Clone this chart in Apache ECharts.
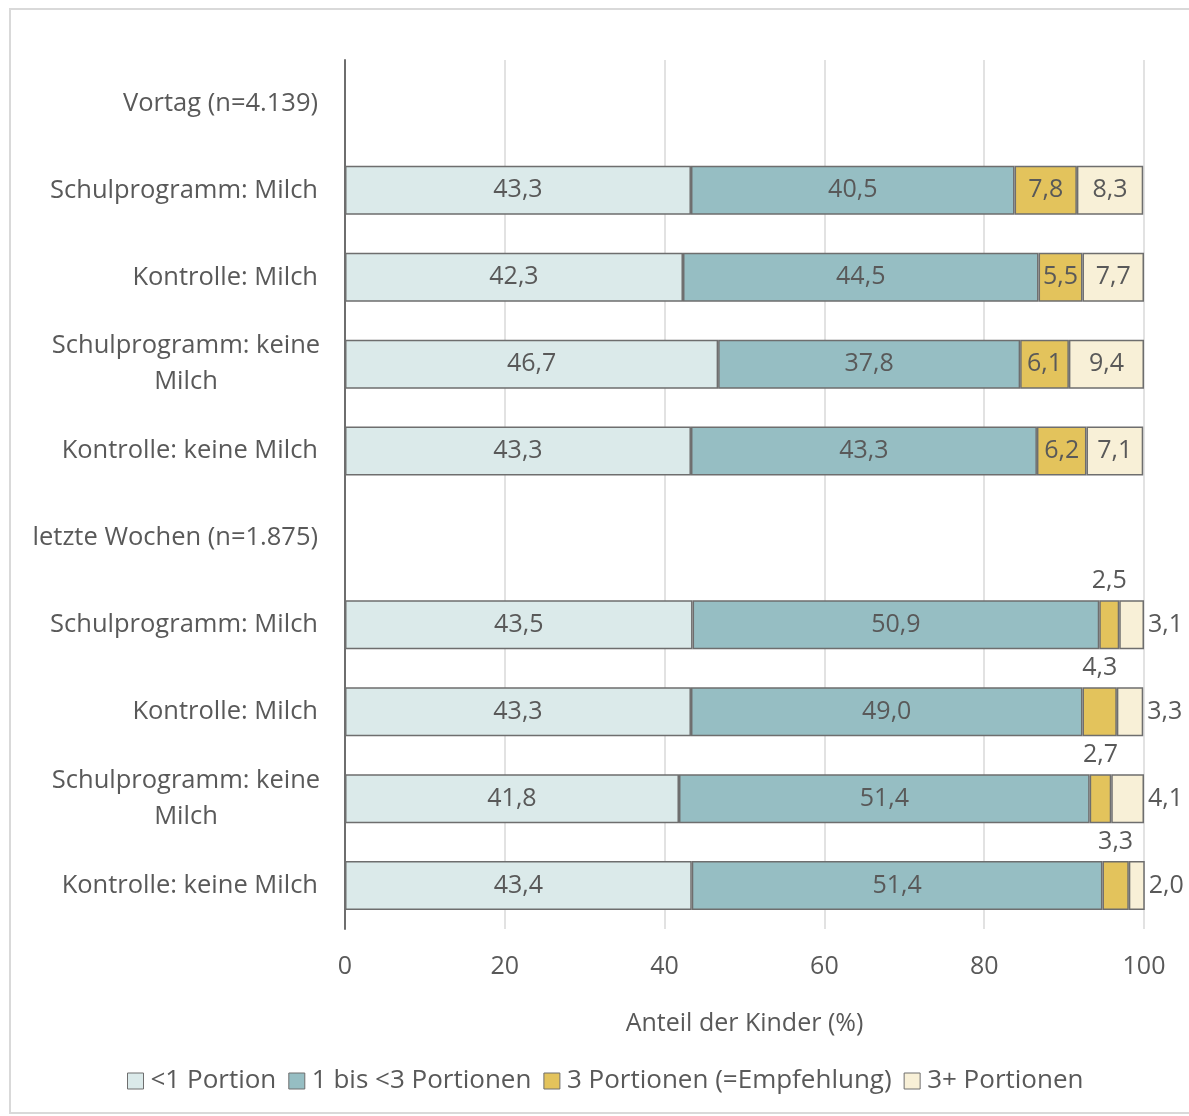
<!DOCTYPE html>
<html>
<head>
<meta charset="utf-8">
<script src="https://cdn.jsdelivr.net/npm/echarts@6/dist/echarts.min.js"></script>
<style>
  html, body { margin: 0; padding: 0; background: #fff; }
  #chart { width: 1189px; height: 1116px; }
</style>
</head>
<body>
<div id="chart"></div>
<script>
// Kategorien (von oben nach unten), leere Zeilen = Gruppenüberschriften
var categories = [
  'Vortag (n=4.139)',
  'Schulprogramm: Milch',
  'Kontrolle: Milch',
  'Schulprogramm: keine\nMilch',
  'Kontrolle: keine Milch',
  'letzte Wochen (n=1.875)',
  'Schulprogramm: Milch',
  'Kontrolle: Milch',
  'Schulprogramm: keine\nMilch',
  'Kontrolle: keine Milch'
];
var seriesNames = ['<1 Portion', '1 bis <3 Portionen', '3 Portionen (=Empfehlung)', '3+ Portionen'];
var lessThan1 = [null, 43.3, 42.3, 46.7, 43.3, null, 43.5, 43.3, 41.8, 43.4];
var oneTo3 = [null, 40.5, 44.5, 37.8, 43.3, null, 50.9, 49.0, 51.4, 51.4];
var three = [null, 7.8, 5.5, 6.1, 6.2, null, 2.5, 4.3, 2.7, 3.3];
var threePlus = [null, 8.3, 7.7, 9.4, 7.1, null, 3.1, 3.3, 4.1, 2.0];
var colors = ['#dbeaea', '#96bec3', '#e3c35c', '#f8f0d7'];
// Zeilen der zweiten Gruppe: kleine Segmente mit Beschriftung außerhalb
var secondGroup = [6, 7, 8, 9];

var textColor = '#595959';
var fmt = function (v) { return v.toFixed(1).replace('.', ','); };

function buildData(values, outsidePos) {
  return values.map(function (v, i) {
    if (v == null) return '-';
    var item = { value: v };
    if (outsidePos && secondGroup.indexOf(i) >= 0) {
      item.label = { position: outsidePos, distance: outsidePos === 'top' ? 7 : 4 };
    }
    return item;
  });
}

var allValues = [lessThan1, oneTo3, three, threePlus];
var outside = [null, null, 'top', 'right'];

var series = allValues.map(function (vals, k) {
  return {
    name: seriesNames[k],
    type: 'bar',
    stack: 'total',
    barWidth: 49,
    itemStyle: { color: colors[k], borderColor: '#6e6e6e', borderWidth: 1.5 },
    label: {
      show: true,
      position: 'inside',
      color: textColor,
      fontSize: 25,
      fontFamily: 'Open Sans',
      formatter: function (p) { return fmt(p.value); }
    },
    data: buildData(vals, outside[k])
  };
});

var chart = echarts.init(document.getElementById('chart'));
chart.setOption({
  animation: false,
  backgroundColor: '#fff',
  textStyle: { fontFamily: 'Open Sans', color: textColor },
  graphic: [{
    type: 'rect',
    shape: { x: 10, y: 9, width: 1200, height: 1104 },
    style: { fill: 'none', stroke: '#d9d9d9', lineWidth: 2 },
    silent: true
  }],
  grid: { left: 345, right: 45, top: 60, bottom: 187, containLabel: false },
  legend: {
    left: 122,
    top: 1063,
    itemWidth: 16,
    itemHeight: 16,
    itemGap: 12,
    icon: 'rect',
    itemStyle: { borderColor: '#6e6e6e', borderWidth: 1 },
    textStyle: { fontSize: 26, color: textColor, fontFamily: 'Open Sans', padding: [0, 0, 0, 2] },
    data: seriesNames
  },
  xAxis: {
    type: 'value',
    min: 0,
    max: 100,
    interval: 20,
    name: 'Anteil der Kinder (%)',
    nameLocation: 'middle',
    nameGap: 82,
    nameTextStyle: { fontSize: 25, color: textColor },
    axisLine: { show: false },
    axisTick: { show: false },
    axisLabel: { fontSize: 25, color: textColor, margin: 25 },
    splitLine: { lineStyle: { color: '#d9d9d9', width: 1.5 } }
  },
  yAxis: {
    type: 'category',
    inverse: true,
    data: categories,
    axisLine: { show: true, lineStyle: { color: '#6e6e6e', width: 2 } },
    axisTick: { show: false },
    axisLabel: {
      fontSize: 25.5,
      color: textColor,
      margin: 27,
      lineHeight: 36,
      formatter: function (v) {
        if (v.indexOf('\n') >= 0) {
          return v.split('\n').map(function (s) { return '{c|' + s + '}'; }).join('\n');
        }
        return v;
      },
      rich: {
        c: { width: 264, align: 'center', fontSize: 25.5, color: textColor, lineHeight: 36 }
      }
    }
  },
  series: series
});
</script>
</body>
</html>
